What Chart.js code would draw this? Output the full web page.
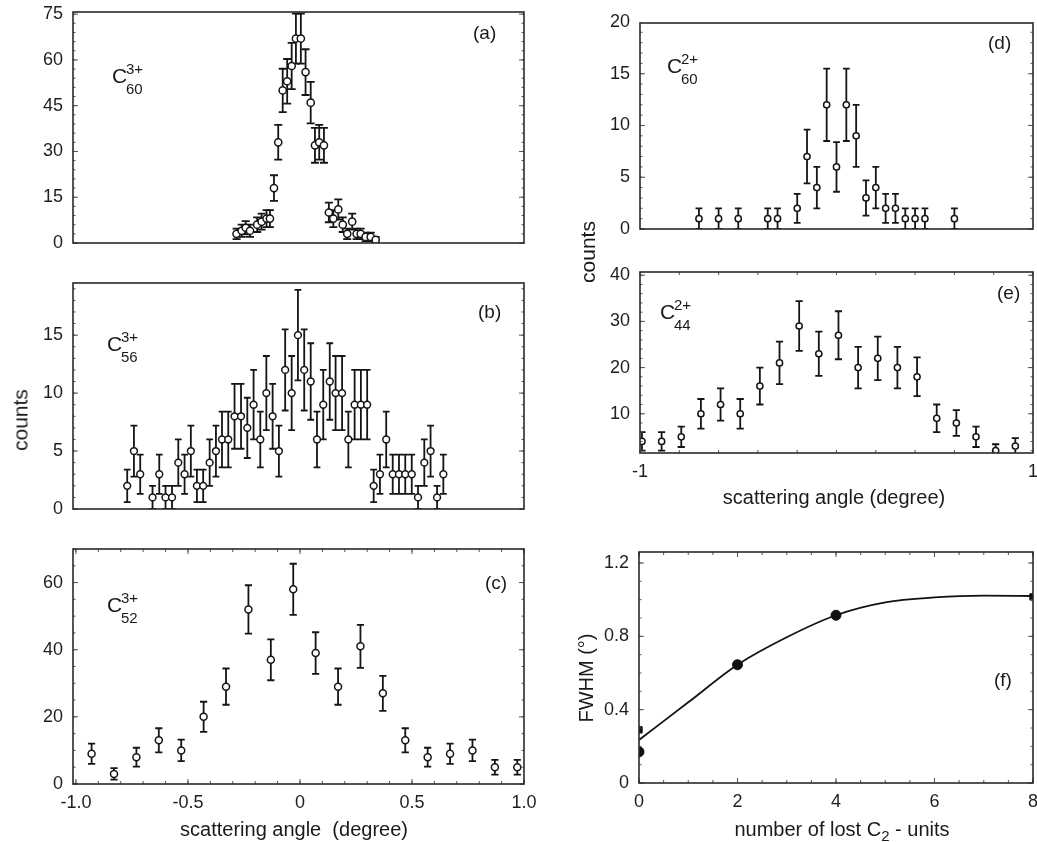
<!DOCTYPE html>
<html>
<head>
<meta charset="utf-8">
<script src="https://cdn.jsdelivr.net/npm/chart.js@4.4.1/dist/chart.umd.min.js"></script>
<style>
  body { margin: 0; width: 1037px; height: 842px; position: relative; overflow: hidden; background: #fff;
         font-family: "Liberation Sans", Arial, sans-serif; color: #1a1a1a; }
  canvas { position: absolute; }
  .t { position: absolute; white-space: pre; line-height: 1; }
  .c { transform: translate(-50%, -50%); }
  .v { transform: translate(-50%, -50%) rotate(-90deg); }
</style>
</head>
<body>
<script>
// (a) C60 3+
const aAngle = [-0.283, -0.260, -0.242, -0.223, -0.191, -0.171, -0.149, -0.134, -0.116, -0.097, -0.077, -0.057, -0.037, -0.018, 0.004, 0.025,
  0.048, 0.067, 0.086, 0.107, 0.129, 0.149, 0.171, 0.191, 0.211, 0.233, 0.253, 0.271, 0.293, 0.316, 0.338]
const aCounts = [3, 4, 5, 4, 6, 7, 8, 8, 18, 33, 50, 53, 58, 67, 67, 56, 46, 32, 33, 32, 10, 8, 11, 6, 3, 7, 3, 3, 2, 2, 1]
const aErr = [1.7, 2, 2.2, 2, 2.4, 2.6, 2.8, 2.8, 4.2, 5.7, 7.1, 7.3, 7.6, 8.2, 8.2, 7.5, 6.8, 5.7, 5.7, 5.7, 3.2, 2.8, 3.3, 2.4, 1.7, 2.6,
  1.7, 1.7, 1.4, 1.4, 1]

// (b) C56 3+
const bAngle = [-0.771, -0.741, -0.713, -0.658, -0.628, -0.600, -0.571, -0.543, -0.515, -0.487,
  -0.460, -0.432, -0.403, -0.375, -0.348, -0.320, -0.292, -0.263, -0.235, -0.207,
  -0.177, -0.150, -0.122, -0.094, -0.066, -0.037, -0.009, 0.019, 0.048, 0.076,
  0.104, 0.133, 0.159, 0.188, 0.216, 0.244, 0.272, 0.300, 0.329, 0.357,
  0.385, 0.414, 0.442, 0.470, 0.499, 0.527, 0.555, 0.583, 0.612, 0.640]
const bCounts = [2, 5, 3, 1, 3, 1, 1, 4, 3, 5, 2, 2, 4, 5, 6, 6, 8, 8, 7, 9, 6, 10, 8, 5, 12, 10, 15, 12, 11, 6,
  9, 11, 10, 10, 6, 9, 9, 9, 2, 3, 6, 3, 3, 3, 3, 1, 4, 5, 1, 3]
const bErr = [1.4, 2.2, 1.7, 1, 1.7, 1, 1, 2, 1.7, 2.2, 1.4, 1.4, 2, 2.2, 2.4, 2.4, 2.8, 2.8, 2.6, 3,
  2.4, 3.2, 2.8, 2.2, 3.5, 3.2, 3.9, 3.5, 3.3, 2.4, 3, 3.3, 3.2, 3.2, 2.4, 3, 3, 3, 1.4, 1.7,
  2.4, 1.7, 1.7, 1.7, 1.7, 1, 2, 2.2, 1, 1.7]

// (c) C52 3+
const cAngle = [-0.93, -0.83, -0.73, -0.63, -0.53, -0.43, -0.33, -0.23, -0.13, -0.03, 0.07, 0.17, 0.27, 0.37, 0.47, 0.57, 0.67, 0.77, 0.87, 0.97]
const cCounts = [9, 3, 8, 13, 10, 20, 29, 52, 37, 58, 39, 29, 41, 27, 13, 8, 9, 10, 5, 5]
const cErr = [3, 1.7, 2.8, 3.6, 3.2, 4.5, 5.4, 7.2, 6.1, 7.6, 6.2, 5.4, 6.4, 5.2, 3.6, 2.8, 3, 3.2, 2.2, 2.2]

// (d) C60 2+
const dAngle = [-0.70, -0.60, -0.50, -0.35, -0.30, -0.20, -0.15, -0.10, -0.05, 0.00, 0.05, 0.10, 0.15, 0.20, 0.25, 0.30, 0.35, 0.40, 0.45, 0.60]
const dCounts = [1, 1, 1, 1, 1, 2, 7, 4, 12, 6, 12, 9, 3, 4, 2, 2, 1, 1, 1, 1]
const dErr = [1, 1, 1, 1, 1, 1.4, 2.6, 2, 3.5, 2.4, 3.5, 3, 1.7, 2, 1.4, 1.4, 1, 1, 1, 1]

// (e) C44 2+
const eAngle = [-0.99, -0.89, -0.79, -0.69, -0.59, -0.49, -0.39, -0.29, -0.19, -0.09, 0.01, 0.11, 0.21, 0.31, 0.41, 0.51, 0.61, 0.71, 0.81, 0.91]
const eCounts = [4, 4, 5, 10, 12, 10, 16, 21, 29, 23, 27, 20, 22, 20, 18, 9, 8, 5, 2, 3]
const eErr = [2, 2, 2.2, 3.2, 3.5, 3.2, 4, 4.6, 5.4, 4.8, 5.2, 4.5, 4.7, 4.5, 4.2, 3, 2.8, 2.2, 1.4, 1.7]

// (f) FWHM vs lost C2 units
const fCurveLost = [0, 1, 2, 3, 4, 5, 6, 7, 8]
const fCurveFwhm = [0.235, 0.44, 0.645, 0.795, 0.915, 0.985, 1.012, 1.022, 1.02]
const fCircleLost = [0, 2, 4]
const fCircleFwhm = [0.17, 0.645, 0.915]
const fSquareLost = [0, 8]
const fSquareFwhm = [0.29, 1.015]

// tick labels
const aYTicks = [0, 15, 30, 45, 60, 75]
const bYTicks = [0, 5, 10, 15]
const cYTicks = [0, 20, 40, 60]
const cXTicks = [-1, -0.5, 0, 0.5, 1]
const cXLabels = ["-1.0", "-0.5", "0", "0.5", "1.0"]
const dYTicks = [0, 5, 10, 15, 20]
const eYTicks = [10, 20, 30, 40]
const eXTicks = [-1, 1]
const eXLabels = ["-1", "1"]
const fYTicks = [0, 0.4, 0.8, 1.2]
const fYLabels = ["0", "0.4", "0.8", "1.2"]
const fXTicks = [0, 2, 4, 6, 8]

Chart.defaults.font.family = '"Liberation Sans", Arial, sans-serif'
Chart.defaults.color = "#1e1e1e"

const toXY = (xs, ys) => xs.map((x, i) => ({ x: x, y: ys[i] }))

const errorBars = {
  id: "errorBars",
  beforeDatasetsDraw(chart) {
    const { ctx, chartArea: a, scales: { x, y } } = chart
    ctx.save()
    ctx.beginPath()
    ctx.rect(a.left, a.top, a.width, a.height)
    ctx.clip()
    ctx.strokeStyle = "#151515"
    ctx.lineWidth = 1.8
    chart.data.datasets.forEach((ds) => {
      if (!ds.errors) return
      ds.data.forEach((p, i) => {
        const px = x.getPixelForValue(p.x)
        const y1 = y.getPixelForValue(p.y - ds.errors[i])
        const y2 = y.getPixelForValue(p.y + ds.errors[i])
        const c = ds.cap
        ctx.beginPath()
        ctx.moveTo(px, y1); ctx.lineTo(px, y2)
        ctx.moveTo(px - c, y1); ctx.lineTo(px + c, y1)
        ctx.moveTo(px - c, y2); ctx.lineTo(px + c, y2)
        ctx.stroke()
      })
    })
    ctx.restore()
  },
}

// box round the plot with small inward ticks
const frame = {
  id: "frame",
  afterDatasetsDraw(chart, args, o) {
    const { ctx, chartArea: a, scales: { x, y } } = chart
    ctx.save()
    ctx.strokeStyle = "#555"
    ctx.lineWidth = 1
    const marks = (scale, step, len) => {
      if (!step) return
      for (let v = Math.ceil(scale.min / step) * step; v <= scale.max + 1e-9; v += step) {
        const p = scale.getPixelForValue(v)
        ctx.beginPath()
        if (scale.axis === "x") {
          ctx.moveTo(p, a.bottom); ctx.lineTo(p, a.bottom - len)
          ctx.moveTo(p, a.top); ctx.lineTo(p, a.top + len)
        } else {
          ctx.moveTo(a.left, p); ctx.lineTo(a.left + len, p)
          ctx.moveTo(a.right, p); ctx.lineTo(a.right - len, p)
        }
        ctx.stroke()
      }
    }
    marks(x, o.xMinor, 3)
    marks(y, o.yMinor, 2.5)
    marks(x, o.xMajor, 5)
    marks(y, o.yMajor, 5)
    ctx.strokeStyle = "#2a2a2a"
    ctx.lineWidth = 1.6
    ctx.strokeRect(a.left, a.top, a.width, a.height)
    ctx.restore()
  },
}

function openPoints(xs, ys, errs, r, cap) {
  return {
    data: toXY(xs, ys), errors: errs, cap: cap, clip: 0,
    pointRadius: r, pointBorderWidth: 1.5, pointBorderColor: "#151515", pointBackgroundColor: "#fff", showLine: false,
  }
}

// the canvas is placed so that the plot box lands on box = [left, top, right, bottom]
function makePanel(box, o) {
  const yW = 70, padT = 24, padR = 24, xH = o.xTicks ? 40 : 24
  const cv = document.createElement("canvas")
  cv.width = box[2] - box[0] + yW + padR
  cv.height = box[3] - box[1] + padT + xH
  cv.style.left = box[0] - yW + "px"
  cv.style.top = box[1] - padT + "px"
  document.body.appendChild(cv)
  new Chart(cv, {
    type: "scatter",
    data: { datasets: o.datasets },
    options: {
      responsive: false,
      animation: false,
      events: [],
      layout: { padding: { top: padT, right: padR, left: 0, bottom: 0 } },
      plugins: { legend: { display: false }, tooltip: { enabled: false }, frame: o.frame },
      scales: {
        x: {
          type: "linear", min: o.xMin, max: o.xMax,
          afterFit: (s) => { s.height = xH },
          afterBuildTicks: (s) => { s.ticks = (o.xTicks || []).map((v) => ({ value: v })) },
          grid: { display: false, drawTicks: false },
          border: { display: false },
          ticks: {
            display: !!o.xTicks, padding: 8, font: { size: 18 },
            callback: (v, i) => (o.xLabels ? o.xLabels[i] : String(v)),
          },
        },
        y: {
          type: "linear", min: o.yMin, max: o.yMax,
          afterFit: (s) => { s.width = yW },
          afterBuildTicks: (s) => { s.ticks = o.yTicks.map((v) => ({ value: v })) },
          grid: { display: false, drawTicks: false },
          border: { display: false },
          ticks: {
            padding: 10, font: { size: 18 },
            callback: (v, i) => (o.yLabels ? o.yLabels[i] : String(v)),
          },
        },
      },
    },
    plugins: [errorBars, frame],
  })
}

makePanel([73, 12, 524, 243], {
  xMin: -1.013, xMax: 1, yMin: 0, yMax: 75.7, yTicks: aYTicks,
  frame: { yMajor: 15, yMinor: 3 },
  datasets: [openPoints(aAngle, aCounts, aErr, 3.6, 4)],
})
makePanel([73, 283, 524, 509], {
  xMin: -1.013, xMax: 1, yMin: 0, yMax: 19.5, yTicks: bYTicks,
  frame: { yMajor: 5, yMinor: 1 },
  datasets: [openPoints(bAngle, bCounts, bErr, 3.4, 3.4)],
})
makePanel([73, 549, 524, 784], {
  xMin: -1.013, xMax: 1, yMin: 0, yMax: 70, yTicks: cYTicks, xTicks: cXTicks, xLabels: cXLabels,
  frame: { xMajor: 0.5, xMinor: 0.1, yMajor: 20, yMinor: 5 },
  datasets: [openPoints(cAngle, cCounts, cErr, 3.5, 3.6)],
})
makePanel([640, 23, 1033, 229], {
  xMin: -1, xMax: 1, yMin: 0, yMax: 19.9, yTicks: dYTicks,
  frame: { yMajor: 5, yMinor: 1 },
  datasets: [openPoints(dAngle, dCounts, dErr, 3.1, 3.4)],
})
makePanel([640, 272, 1033, 453], {
  xMin: -1, xMax: 1, yMin: 1.5, yMax: 40.7, yTicks: eYTicks, xTicks: eXTicks, xLabels: eXLabels,
  frame: { xMinor: 0.2, yMajor: 10, yMinor: 2 },
  datasets: [openPoints(eAngle, eCounts, eErr, 3.1, 3.6)],
})
makePanel([639, 552, 1033, 783], {
  xMin: 0, xMax: 8, yMin: 0, yMax: 1.26, yTicks: fYTicks, yLabels: fYLabels, xTicks: fXTicks,
  frame: { xMajor: 2, xMinor: 0.5, yMajor: 0.4, yMinor: 0.1 },
  datasets: [
    {
      data: toXY(fCurveLost, fCurveFwhm), showLine: true, cubicInterpolationMode: "monotone",
      borderColor: "#111", borderWidth: 1.8, pointRadius: 0, clip: 0,
    },
    { data: toXY(fCircleLost, fCircleFwhm), pointRadius: 5, pointBackgroundColor: "#111", pointBorderColor: "#111", clip: 0 },
    { data: toXY(fSquareLost, fSquareFwhm), pointStyle: "rect", pointRadius: 4.5, pointBackgroundColor: "#111", pointBorderColor: "#111", clip: 0 },
  ],
})

// texts
function addText(html, left, top, size, cls) {
  const d = document.createElement("div")
  d.className = "t" + (cls ? " " + cls : "")
  d.style.left = left + "px"
  d.style.top = top + "px"
  d.style.fontSize = size + "px"
  d.innerHTML = html
  document.body.appendChild(d)
}
function species(left, capTop, charge, n) {
  addText("C", left, capTop - 2.7, 21)
  addText(charge, left + 14, capTop - 5 - 2, 15)
  addText(n, left + 14, capTop + 15 - 2, 15)
}
species(112, 68, "3+", "60")
species(107, 336, "3+", "56")
species(107, 597, "3+", "52")
species(667, 58, "2+", "60")
species(660, 304, "2+", "44")

addText("(a)", 473, 23, 19)
addText("(b)", 478, 302, 19)
addText("(c)", 485, 573, 19)
addText("(d)", 988, 33, 19)
addText("(e)", 997, 283, 19)
addText("(f)", 994, 670, 19)

addText("counts", 20, 420, 21, "v")
addText("counts", 587, 252, 21, "v")
addText("scattering angle  (degree)", 294, 829, 20, "c")
addText("scattering angle (degree)", 834, 497, 20, "c")
addText("number of lost C<span style=\"font-size:15px;position:relative;top:5px\">2</span> - units", 842, 829, 20, "c")
addText("FWHM (°)", 586, 678, 20, "v")
</script>
</body>
</html>
